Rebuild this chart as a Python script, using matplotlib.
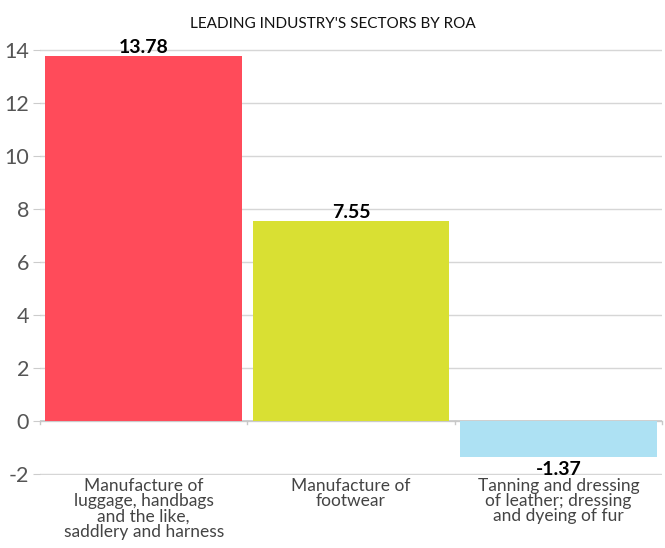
import matplotlib.pyplot as plt

sectors = [
    'Manufacture of\nluggage, handbags\nand the like,\nsaddlery and harness',
    'Manufacture of\nfootwear',
    'Tanning and dressing\nof leather; dressing\nand dyeing of fur',
]
roa = [13.78, 7.55, -1.37]
bar_colors = ['#FF4B5A', '#D9E033', '#ADE1F3']
y_ticks = [-2, 0, 2, 4, 6, 8, 10, 12, 14]

plt.rcParams['font.family'] = ['Lato', 'DejaVu Sans']

fig = plt.figure(figsize=(6.65, 5.48), dpi=100)
ax = fig.add_axes([40 / 665, 73 / 548, 622 / 665, 426 / 548])

x = list(range(len(roa)))
bars = ax.bar(x, roa, width=0.95, color=bar_colors, zorder=3)

# value labels, above positive bars and below negative ones
for b, v in zip(bars, roa):
    cx = b.get_x() + b.get_width() / 2
    if v >= 0:
        ax.annotate(f'{v:.2f}', (cx, v), xytext=(0, 0), textcoords='offset points',
                    ha='center', va='bottom', fontsize=14, fontweight='bold', zorder=4)
    else:
        ax.annotate(f'{v:.2f}', (cx, v), xytext=(0, -3), textcoords='offset points',
                    ha='center', va='top', fontsize=14, fontweight='bold', zorder=4)

ax.set_xlim(-0.5, len(roa) - 0.5)
ax.set_ylim(-2.04, 14.04)
ax.set_yticks(y_ticks)
ax.set_yticklabels([str(t) for t in y_ticks], color='#555555', fontsize=15.5)
ax.tick_params(axis='y', length=5, color='#cccccc', pad=3)

ax.set_xticks(x)
ax.set_xticklabels(sectors, color='#444444', fontsize=12.5, linespacing=0.95)
ax.tick_params(axis='x', length=0, pad=2)

ax.grid(True, axis='y', color='#d6d6d6', linewidth=1, zorder=0)
ax.axhline(0, color='#c8c8c8', linewidth=1.2, zorder=2)
# small ticks on the zero line at category boundaries
for xb in [i - 0.5 for i in range(len(roa) + 1)]:
    ax.plot([xb, xb], [0, -0.12], color='#c8c8c8', linewidth=1, zorder=2, clip_on=False)

for s in ax.spines.values():
    s.set_visible(False)

fig.text(0.5, 1 - 24 / 548, "LEADING INDUSTRY'S SECTORS BY ROA", ha='center', va='center',
         fontsize=11, color='#111111')

fig.savefig('out.png', dpi=100)
